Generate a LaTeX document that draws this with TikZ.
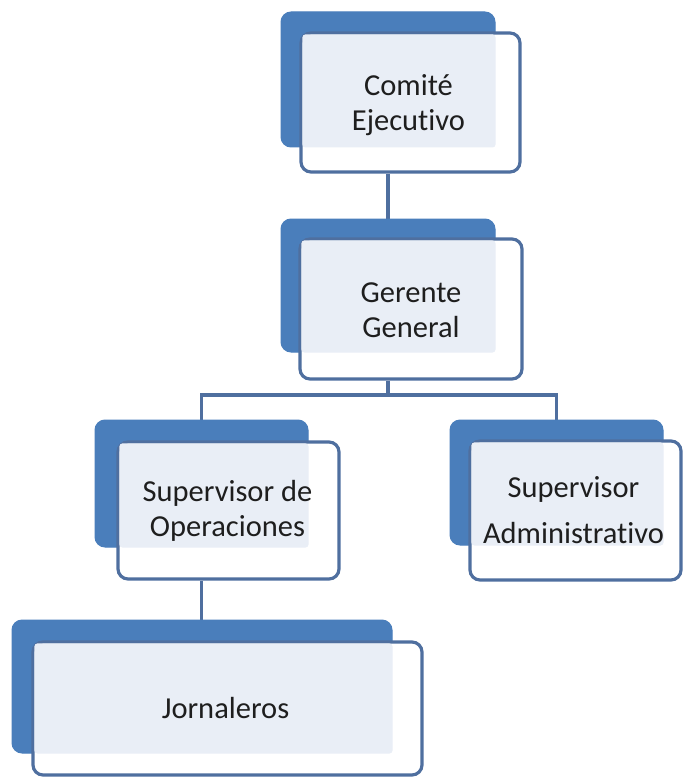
\documentclass[tikz,border=0pt]{standalone}
\usepackage{fontspec}
\setmainfont[RawFeature=-liga]{Carlito}
\pgfdeclarelayer{bg}
\pgfsetlayers{bg,main}
\definecolor{backblue}{HTML}{4A7EBB}
\definecolor{lineblue}{HTML}{4F6F9F}
\definecolor{lightfill}{HTML}{E9EEF6}
\definecolor{txt}{HTML}{1E1E1E}
\begin{document}
\begin{tikzpicture}[x=1pt,y=-1pt,
  backbox/.style={fill=backblue, draw=backblue, line width=1pt, rounded corners=10pt, inner sep=0pt},
  frontbox/.style={fill=white, draw=lineblue, line width=3.2pt, rounded corners=10pt, inner sep=0pt},
  lightbox/.style={fill=lightfill, rounded corners=3pt},
  lbl/.style={text=txt, align=center, inner sep=0pt, font=\fontsize{30.5}{35}\selectfont},
  conn/.style={draw=lineblue, line width=3.2pt}]
\useasboundingbox (0,0) rectangle (684,778);
% Comite Ejecutivo
\node[backbox, minimum width=214pt, minimum height=135pt] (cb) at (388,79.5) {};
\node[frontbox, minimum width=219pt, minimum height=139pt] (cf) at (410.5,102.5) {};
\fill[lightbox] ([shift={(3,3)}]cf.north west) rectangle (cb.south east);
\node[lbl] (ct) at ([shift={(-2,3)}]cf.center) {Comité\\Ejecutivo};
% Gerente General
\node[backbox, minimum width=214pt, minimum height=133pt] (gb) at (388,285.5) {};
\node[frontbox, minimum width=222pt, minimum height=140pt] (gf) at (411,309) {};
\fill[lightbox] ([shift={(3,3)}]gf.north west) rectangle (gb.south east);
\node[lbl] (gt) at ([shift={(0,1)}]gf.center) {Gerente\\General};
% Supervisor de Operaciones
\node[backbox, minimum width=213pt, minimum height=127pt] (sob) at (201.5,483.5) {};
\node[frontbox, minimum width=221pt, minimum height=137pt] (sof) at (228.5,510.5) {};
\fill[lightbox] ([shift={(3,3)}]sof.north west) rectangle (sob.south east);
\node[lbl] (sot) at ([shift={(-1,0)}]sof.center) {Supervisor de\\Operaciones};
% Supervisor Administrativo
\node[backbox, minimum width=213pt, minimum height=125pt] (sab) at (556.5,482.5) {};
\node[frontbox, minimum width=211pt, minimum height=139pt] (saf) at (575.5,510.5) {};
\fill[lightbox] ([shift={(3,3)}]saf.north west) rectangle (sab.south east);
\node[lbl] (sat) at ([shift={(-2,0)}]saf.center) {Supervisor\\[11pt]Administrativo};
% Jornaleros
\node[backbox, minimum width=380pt, minimum height=133pt] (jb) at (202,686.5) {};
\node[frontbox, minimum width=389pt, minimum height=133pt] (jf) at (227.5,708.5) {};
\fill[lightbox] ([shift={(3,3)}]jf.north west) rectangle (jb.south east);
\node[lbl] (jt) at ([shift={(-2,0)}]jf.center) {Jornaleros};
% connectors
\coordinate (hbar) at (388,395);
\begin{pgfonlayer}{bg}
\draw[conn] (cf.south -| cb.south) -- (gb.north);
\draw[conn] (gf.south -| gb.south) -- (hbar) -| (sob.north);
\draw[conn] (hbar) -| (sab.north);
\draw[conn] (sof.south -| sob.south) -- (jb.north -| sob.south);
\end{pgfonlayer}
\end{tikzpicture}
\end{document}
